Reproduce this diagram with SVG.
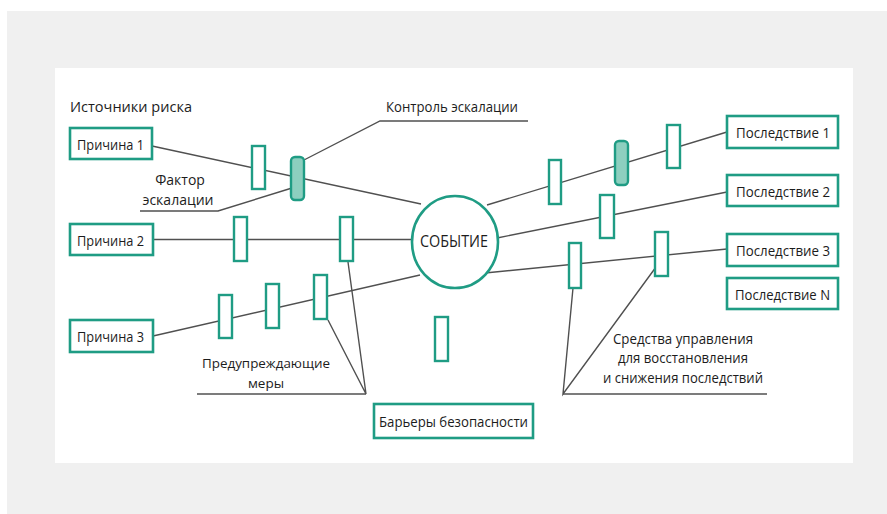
<svg xmlns="http://www.w3.org/2000/svg" width="887" height="514" viewBox="0 0 887 514">
<defs>
<style>
.bg{fill:#f0f0f0}
.panel{fill:#ffffff}
.box{fill:#ffffff;stroke:#1f9c84;stroke-width:2.6}
.bar{fill:#ffffff;stroke:#1f9c84;stroke-width:2.4}
.esc{fill:#8dcfbf;stroke:#1f9c84;stroke-width:2.4}
.ln{fill:none;stroke:#505050;stroke-width:1.4}
.t{font-family:"Open Sans","Liberation Sans",sans-serif;font-size:14px;fill:#1c1c1c}
.c{text-anchor:middle}
</style>
</defs>
<rect x="0" y="0" width="887" height="514" fill="#ffffff"/>
<rect class="bg" x="7" y="11" width="880" height="503"/>
<rect class="panel" x="55" y="68" width="798" height="395"/>

<g id="connectors">
<polyline class="ln" points="152,146 421,204"/>
<polyline class="ln" points="304,160 380,121 528,121"/>
<polyline class="ln" points="140,211 218,211 292,188"/>
<polyline class="ln" points="153,239.5 413,239.5"/>
<polyline class="ln" points="153,336 420,275"/>
<polyline class="ln" points="487,205 727,132"/>
<polyline class="ln" points="497,238 727,192"/>
<polyline class="ln" points="485,273 727,249"/>
<polyline class="ln" points="197,394 366,394"/>
<polyline class="ln" points="348,262 366,394 328,320"/>
<polyline class="ln" points="573,288 563,394 656,267"/>
<polyline class="ln" points="563,394 767,394"/>
</g>

<g id="barriers">
<rect class="bar" x="252" y="146" width="13" height="43"/>
<rect class="esc" x="291" y="157" width="13" height="43" rx="4"/>
<rect class="bar" x="234" y="217" width="13" height="44"/>
<rect class="bar" x="340" y="217" width="13" height="44"/>
<rect class="bar" x="219" y="295" width="13" height="43"/>
<rect class="bar" x="266" y="284" width="13" height="44"/>
<rect class="bar" x="314" y="275" width="13" height="44"/>
<rect class="bar" x="549" y="160" width="12" height="44"/>
<rect class="esc" x="615" y="141" width="13" height="44" rx="4"/>
<rect class="bar" x="667" y="125" width="13" height="43"/>
<rect class="bar" x="600" y="195" width="14" height="43"/>
<rect class="bar" x="569" y="243" width="12" height="45"/>
<rect class="bar" x="655" y="232" width="13" height="44"/>
<rect class="bar" x="435" y="317" width="13" height="44"/>
</g>

<g id="event">
<ellipse cx="455" cy="242" rx="43" ry="46" fill="#ffffff" stroke="#1f9c84" stroke-width="2.6"/>
<text class="t c" x="454" y="247" textLength="68" lengthAdjust="spacingAndGlyphs" style="font-size:17px">СОБЫТИЕ</text>
</g>

<g id="cause1">
<rect class="box" x="70" y="128" width="82" height="31"/>
<text class="t" x="77" y="149.5" textLength="67" lengthAdjust="spacingAndGlyphs">Причина 1</text>
</g>
<g id="cause2">
<rect class="box" x="70" y="224" width="83" height="31"/>
<text class="t" x="77" y="245.5" textLength="67" lengthAdjust="spacingAndGlyphs">Причина 2</text>
</g>
<g id="cause3">
<rect class="box" x="70" y="320" width="83" height="32"/>
<text class="t" x="77" y="341.5" textLength="67" lengthAdjust="spacingAndGlyphs">Причина 3</text>
</g>

<g id="cons1">
<rect class="box" x="727" y="116" width="111" height="32"/>
<text class="t" x="736" y="138" textLength="94" lengthAdjust="spacingAndGlyphs">Последствие 1</text>
</g>
<g id="cons2">
<rect class="box" x="727" y="175" width="111" height="31"/>
<text class="t" x="736" y="197" textLength="94" lengthAdjust="spacingAndGlyphs">Последствие 2</text>
</g>
<g id="cons3">
<rect class="box" x="727" y="234" width="111" height="32"/>
<text class="t" x="736" y="256" textLength="94" lengthAdjust="spacingAndGlyphs">Последствие 3</text>
</g>
<g id="consN">
<rect class="box" x="727" y="278" width="111" height="31"/>
<text class="t" x="735" y="300" textLength="95" lengthAdjust="spacingAndGlyphs">Последствие N</text>
</g>

<g id="barriers-label">
<rect class="box" x="374" y="404" width="159" height="34"/>
<text class="t" x="379" y="427" textLength="149" lengthAdjust="spacingAndGlyphs">Барьеры безопасности</text>
</g>

<g id="labels">
<text class="t" x="70" y="112" textLength="122" lengthAdjust="spacingAndGlyphs">Источники риска</text>
<text class="t" x="386" y="111.5" textLength="132" lengthAdjust="spacingAndGlyphs">Контроль эскалации</text>
<text class="t c" x="180" y="185">Фактор</text>
<text class="t c" x="178" y="204.5">эскалации</text>
<text class="t" x="202" y="368" textLength="128" lengthAdjust="spacingAndGlyphs" style="font-size:13.5px">Предупреждающие</text>
<text class="t c" x="266" y="387.5" style="font-size:13.5px">меры</text>
<text class="t" x="613" y="343.5" textLength="140" lengthAdjust="spacingAndGlyphs">Средства управления</text>
<text class="t" x="618" y="363" textLength="130" lengthAdjust="spacingAndGlyphs">для восстановления</text>
<text class="t" x="603" y="382.5" textLength="160" lengthAdjust="spacingAndGlyphs">и снижения последствий</text>
</g>
</svg>
